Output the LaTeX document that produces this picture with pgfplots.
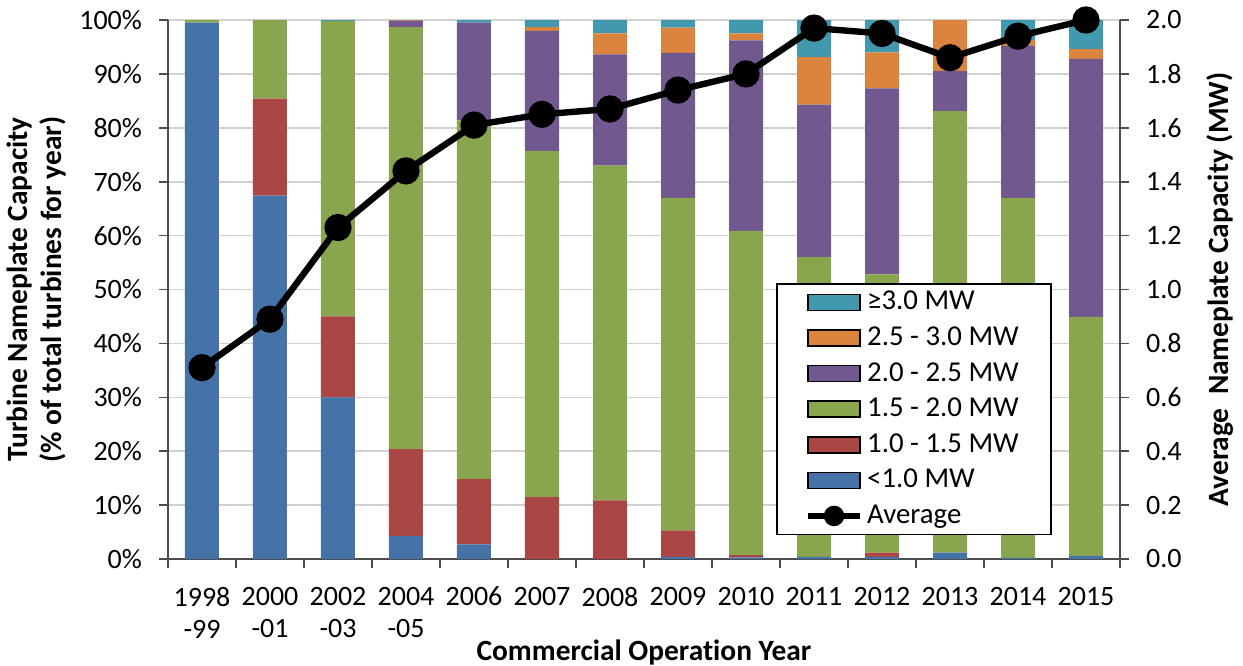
\documentclass[border=0pt]{standalone}
\usepackage{pgfplots}
\pgfplotsset{compat=1.18}
\usepackage{pgfplotstable}
\usepackage{fontspec}
\setmainfont[Ligatures=NoCommon]{Carlito}

\definecolor{cblue}{HTML}{4572A7}
\definecolor{cred}{HTML}{AA4643}
\definecolor{cgreen}{HTML}{89A54E}
\definecolor{cpurple}{HTML}{71588F}
\definecolor{corange}{HTML}{DB843D}
\definecolor{cteal}{HTML}{4198AF}

% share of turbines by size class (%), and average size (MW)
\pgfplotstableread{
x  lt10  r1015 r1520 r2025 r2530 ge30 avg
0  99.5  0     0.5   0     0     0    0.71
1  67.4  18.0  14.6  0     0     0    0.89
2  30.0  15.0  54.8  0     0     0.2  1.23
3  4.3   16.1  78.3  1.2   0.1   0    1.44
4  2.7   12.1  66.6  18.1  0     0.5  1.61
5  0     11.5  64.2  22.3  0.7   1.3  1.65
6  0     10.9  62.1  20.6  3.9   2.5  1.67
7  0.4   4.9   61.7  26.9  4.7   1.4  1.74
8  0.3   0.4   60.2  35.3  1.3   2.5  1.80
9  0.4   0     55.6  28.3  8.8   6.9  1.97
10 0.4   0.8   51.6  34.5  6.7   6.0  1.95
11 1.2   0     81.9  7.4   9.5   0    1.86
12 0.2   0     66.8  28.2  1.1   3.7  1.94
13 0.6   0     44.3  47.9  1.8   5.4  2.00
}\data

\pgfplotsset{
  common/.style={
    width=476pt, height=269.5pt, scale only axis,
    xmin=-0.5, xmax=13.5,
    /pgf/number format/assume math mode=true,
    tick align=outside,
    axis line style={-, black!70, line width=0.8pt},
    tick style={black!70, line width=0.8pt},
    major tick length=4.5pt, minor tick length=4.5pt,
    label style={font=\fontsize{14.7}{17}\selectfont\bfseries},
  },
  barleg/.style={legend image code/.code={\fill[##1] (0pt,-4pt) rectangle (26pt,4pt);}},
  avgleg/.style={legend image code/.code={\draw[##1, mark size=3.5pt, mark repeat=2, mark phase=2] plot coordinates {(0pt,0pt) (13pt,0pt) (26pt,0pt)};}},
}

\begin{document}
\begin{tikzpicture}[font=\fontsize{14}{16}\selectfont]
\useasboundingbox (-84pt,-53pt) rectangle (537.5pt,279.5pt);
\begin{axis}[common,
  ybar stacked, bar width=17pt,
  ymin=0, ymax=100,
  axis x line*=bottom, axis y line*=left,
  ytick={0,10,...,100},
  yticklabel={\pgfmathprintnumber{\tick}\%},
  yticklabel style={xshift=-5pt},
  ymajorgrids, grid style={black!18, line width=0.8pt},
  xtick={0,...,13},
  xticklabels={1998\\-99,2000\\-01,2002\\-03,2004\\-05,2006,2007,2008,2009,2010,2011,2012,2013,2014,2015},
  xticklabel style={align=center, anchor=north, yshift=-6pt},
  major x tick style={draw=none},
  minor xtick={-0.5,0.5,...,13.5},
  xlabel={Commercial Operation Year},
  xlabel style={at={(axis description cs:0.5,0)}, anchor=center, yshift=-46.5pt},
  ylabel={Turbine Nameplate Capacity\\(\% of total turbines for year)},
  ylabel style={at={(axis description cs:-0.1385,0.5)}, anchor=center, align=center},
]
\addplot[fill=cblue, draw=none] table[x=x, y=lt10]{\data};
\addplot[fill=cred, draw=none] table[x=x, y=r1015]{\data};
\addplot[fill=cgreen, draw=none] table[x=x, y=r1520]{\data};
\addplot[fill=cpurple, draw=none] table[x=x, y=r2025]{\data};
\addplot[fill=corange, draw=none] table[x=x, y=r2530]{\data};
\addplot[fill=cteal, draw=none] table[x=x, y=ge30]{\data};
\end{axis}

\begin{axis}[common,
  ymin=0, ymax=2,
  axis x line=none, axis y line*=right,
  ytick={0,0.2,0.4,0.6,0.8,1.0,1.2,1.4,1.6,1.8,2.0},
  yticklabel style={xshift=5pt, /pgf/number format/.cd, fixed, fixed zerofill, precision=1},
  ylabel={Average\ \ Nameplate Capacity (MW)},
  ylabel style={at={(axis description cs:1.105,0.5)}, anchor=center},
  legend cell align=left,
  legend style={at={(axis description cs:0.6387,0.512)}, anchor=north west,
    draw=black, line width=0.8pt, fill=white,
    font=\fontsize{14.4}{16}\selectfont,
    inner xsep=14pt, inner ysep=2pt, row sep=3.3pt,
    nodes={inner ysep=0.5pt, text height=10.5pt, text depth=3pt}},
]
\addlegendimage{barleg, fill=cteal}
\addlegendentry{≥3.0 MW}
\addlegendimage{barleg, fill=corange}
\addlegendentry{2.5 - 3.0 MW}
\addlegendimage{barleg, fill=cpurple}
\addlegendentry{2.0 - 2.5 MW}
\addlegendimage{barleg, fill=cgreen}
\addlegendentry{1.5 - 2.0 MW}
\addlegendimage{barleg, fill=cred}
\addlegendentry{1.0 - 1.5 MW}
\addlegendimage{barleg, fill=cblue}
\addlegendentry{<1.0 MW}
\addplot[black, line width=3.2pt, mark=*, mark size=5.2pt, avgleg]
  table[x=x, y=avg]{\data};
\addlegendentry{Average}
\end{axis}
\end{tikzpicture}
\end{document}
